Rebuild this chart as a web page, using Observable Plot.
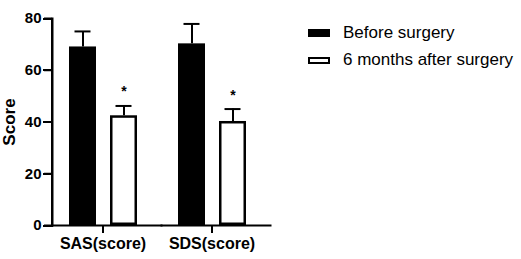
<!DOCTYPE html>
<html><head><meta charset="utf-8">
<script src="https://cdn.jsdelivr.net/npm/d3@7"></script>
<script src="https://cdn.jsdelivr.net/npm/@observablehq/plot@0.6"></script>
<style>
body{margin:0;background:#fff;color:#000;font-family:"Liberation Sans",Arial,sans-serif;}
#wrap{position:relative;width:521px;height:259px;}
#chart{position:absolute;left:0;top:0;}
.item{position:absolute;left:308px;font-size:17px;color:#000;white-space:nowrap;display:flex;align-items:center;height:20px;}
.sw{width:22px;height:8px;box-sizing:border-box;margin-right:13px;}
.axl{position:absolute;background:#000;}
</style></head><body>
<div id="wrap"><div id="chart"></div></div>
<script>
const categories = ["SAS(score)", "SDS(score)"];
const groups = ["Before surgery", "6 months after surgery"];
const groupColors = ["#000000", "#ffffff"];
const beforeMean = [69.0, 70.2];
const beforeSD = [6.0, 7.7];
const afterMean = [42.4, 40.2];
const afterSD = [3.8, 4.8];
const afterSig = ["*", "*"];
const yTicks = [0, 20, 40, 60, 80];

const rows = [];
categories.forEach((c, i) => {
  rows.push({category: c, group: groups[0], mean: beforeMean[i], sd: beforeSD[i], sig: ""});
  rows.push({category: c, group: groups[1], mean: afterMean[i], sd: afterSD[i], sig: afterSig[i]});
});

const font = "Liberation Sans, Arial, sans-serif";
const marginLeft = 51;
const tickSize = 8;
const chart = Plot.plot({
  width: 521, height: 259,
  marginLeft, marginRight: 251, marginTop: 18, marginBottom: 34,
  fx: {domain: categories, padding: 0},
  x: {domain: groups, paddingInner: 0.351, paddingOuter: 0.501, align: 0.4, axis: null},
  y: {domain: [0, 80]},
  color: {domain: groups, range: groupColors},
  marks: [
    Plot.barY(rows, {fx: "category", x: "group", y: "mean", fill: "group", stroke: "black", strokeWidth: 2.5, inset: 1.25}),
    Plot.ruleX(rows, {fx: "category", x: "group", y1: "mean", y2: d => d.mean + d.sd, stroke: "black", strokeWidth: 2}),
    Plot.tickY(rows, {fx: "category", x: "group", y: d => d.mean + d.sd, stroke: "black", strokeWidth: 2, insetLeft: 5.5, insetRight: 5.5}),
    Plot.text(rows.filter(d => d.sig), {fx: "category", x: "group", y: d => d.mean + d.sd, text: "sig", dy: -14, fontSize: 14, fontWeight: "bold", fontFamily: font, fill: "black"}),
    Plot.frame({anchor: "bottom", stroke: "black", strokeWidth: 2}),
    Plot.frame({anchor: "left", facetAnchor: "left", stroke: "black", strokeWidth: 2}),
    Plot.axisY({ticks: yTicks, tickSize, tickPadding: 3, fontSize: 15, fontWeight: "bold", fontFamily: font, stroke: "black", strokeWidth: 2, label: null}),
    Plot.axisY({ticks: [], tickSize: 0, fontSize: 17, fontWeight: "bold", fontFamily: font, label: "Score", labelArrow: false, labelAnchor: "center", labelOffset: 50}),
    Plot.axisFx({anchor: "bottom", tickSize: 8, tickPadding: 4, dx: -4, fontSize: 16, fontWeight: "bold", fontFamily: font, stroke: "black", strokeWidth: 2, label: null})
  ]
});
document.getElementById("chart").appendChild(chart);

const wrap = document.getElementById("wrap");
// y-axis line and tick marks placed with Plot's own y scale
const yScale = chart.scale("y");
const [yBottom, yTop] = yScale.range;
const line = document.createElement("div");
line.className = "axl";
line.style.left = (marginLeft - 0.5) + "px";
line.style.top = (yTop - 0.5) + "px";
line.style.width = "2px";
line.style.height = (yBottom - yTop + 2) + "px";
wrap.appendChild(line);
yTicks.forEach(v => {
  const t = document.createElement("div");
  t.className = "axl";
  t.style.left = (marginLeft - tickSize) + "px";
  t.style.top = (yScale.apply(v) - 0.5) + "px";
  t.style.width = tickSize + "px";
  t.style.height = "2px";
  wrap.appendChild(t);
});

const tops = [23, 50];
groups.forEach((g, i) => {
  const item = document.createElement("div");
  item.className = "item";
  item.style.top = tops[i] + "px";
  const sw = document.createElement("span");
  sw.className = "sw";
  sw.style.background = groupColors[i];
  sw.style.border = "2.5px solid #000";
  if (i === 1) sw.style.height = "7px";
  const t = document.createElement("span");
  t.textContent = g;
  item.appendChild(sw); item.appendChild(t);
  wrap.appendChild(item);
});
</script>
</body></html>
